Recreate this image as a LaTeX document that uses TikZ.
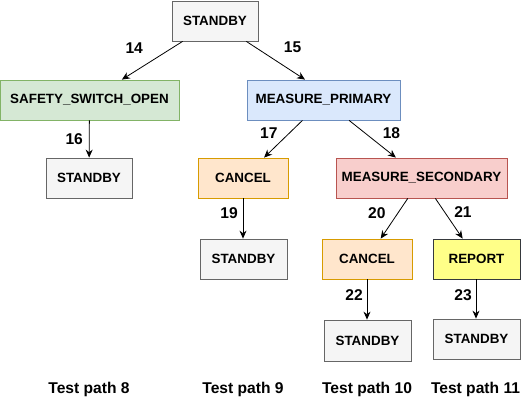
\documentclass[tikz,border=0pt]{standalone}
\usepackage{fontspec}
\setmainfont{Liberation Sans}
\usetikzlibrary{arrows.meta}

\definecolor{idlefill}{HTML}{F5F5F5}
\definecolor{idleline}{HTML}{666666}
\definecolor{safefill}{HTML}{D5E8D4}
\definecolor{safeline}{HTML}{82B366}
\definecolor{measfill}{HTML}{DAE8FC}
\definecolor{measline}{HTML}{6C8EBF}
\definecolor{cancfill}{HTML}{FFE6CC}
\definecolor{cancline}{HTML}{D79B00}
\definecolor{secfill}{HTML}{F8CECC}
\definecolor{secline}{HTML}{B85450}
\definecolor{repfill}{HTML}{FFFF88}
\definecolor{repline}{HTML}{36393D}

\tikzset{
  state/.style={draw, line width=0.8pt, minimum height=40pt, inner sep=0pt,
    font=\fontsize{13.4}{16}\selectfont\bfseries},
  idle/.style={state, fill=idlefill, draw=idleline, minimum width=86pt},
  safe/.style={state, fill=safefill, draw=safeline},
  meas/.style={state, fill=measfill, draw=measline},
  canc/.style={state, fill=cancfill, draw=cancline, minimum width=90pt},
  sec/.style={state, fill=secfill, draw=secline},
  rep/.style={state, fill=repfill, draw=repline, minimum width=87pt},
  num/.style={font=\fontsize{15.6}{18}\selectfont\bfseries},
  edge/.style={-{Stealth[length=8pt,width=7pt]}, line width=0.8pt}
}

\begin{document}
\begin{tikzpicture}[x=1pt,y=-1pt]
\useasboundingbox (0,0) rectangle (525,401);

% states
\node[idle] (top) at (215,21) {STANDBY};
\node[safe, minimum width=179pt] (safety) at (89.5,100) {SAFETY\_SWITCH\_OPEN};
\node[meas, minimum width=153pt] (mprim) at (323.5,100) {MEASURE\_PRIMARY};
\node[idle] (stop8) at (89,178) {STANDBY};
\node[canc] (canc9) at (243,178) {CANCEL};
\node[sec, minimum width=171pt] (msec) at (421.5,178) {MEASURE\_SECONDARY};
\node[idle, minimum width=87pt] (stop9) at (243.5,259) {STANDBY};
\node[canc] (canc10) at (367,259) {CANCEL};
\node[rep] (report) at (476.5,259) {REPORT};
\node[idle, minimum width=87pt, minimum height=41pt] (stop10) at (367.5,340.5) {STANDBY};
\node[idle, minimum width=87pt] (stop11) at (476.5,339) {STANDBY};

% transitions
\draw[edge] (top) -- (safety) node[num, midway, xshift=-18, yshift=12.5] (t14) {14};
\draw[edge] (top) -- ([xshift=-18.5pt]mprim.north) node[num, midway, xshift=17, yshift=13.5] (t15) {15};
\draw[edge] (safety) -- (stop8) node[num, midway, xshift=-15] (t16) {16};
\draw[edge] (mprim) -- (canc9) node[num, midway, xshift=-14.5, yshift=6] (t17) {17};
\draw[edge] (mprim) -- (msec) node[num, midway, xshift=19, yshift=6] (t18) {18};
\draw[edge] (canc9) -- (stop9.north -| canc9) node[num, midway, xshift=-14, yshift=5.5] (t19) {19};
\draw[edge] (msec) -- (canc10) node[num, midway, xshift=-17.5, yshift=5.5] (t20) {20};
\draw[edge] (msec) -- (report) node[num, midway, xshift=14, yshift=6.5] (t21) {21};
\draw[edge] (canc10) -- (stop10.north -| canc10) node[num, midway, xshift=-13, yshift=4.5] (t22) {22};
\draw[edge] (report.south -| 476,0) -- (stop11.north -| 476,0) node[num, midway, xshift=-13, yshift=4] (t23) {23};

% paths
\node[num] (path8) at (89,389) {Test path 8};
\node[num] (path9) at (243,389) {Test path 9};
\node[num] (path10) at (367,389) {Test path 10};
\node[num] (path11) at (475.5,389) {Test path 11};
\end{tikzpicture}
\end{document}
